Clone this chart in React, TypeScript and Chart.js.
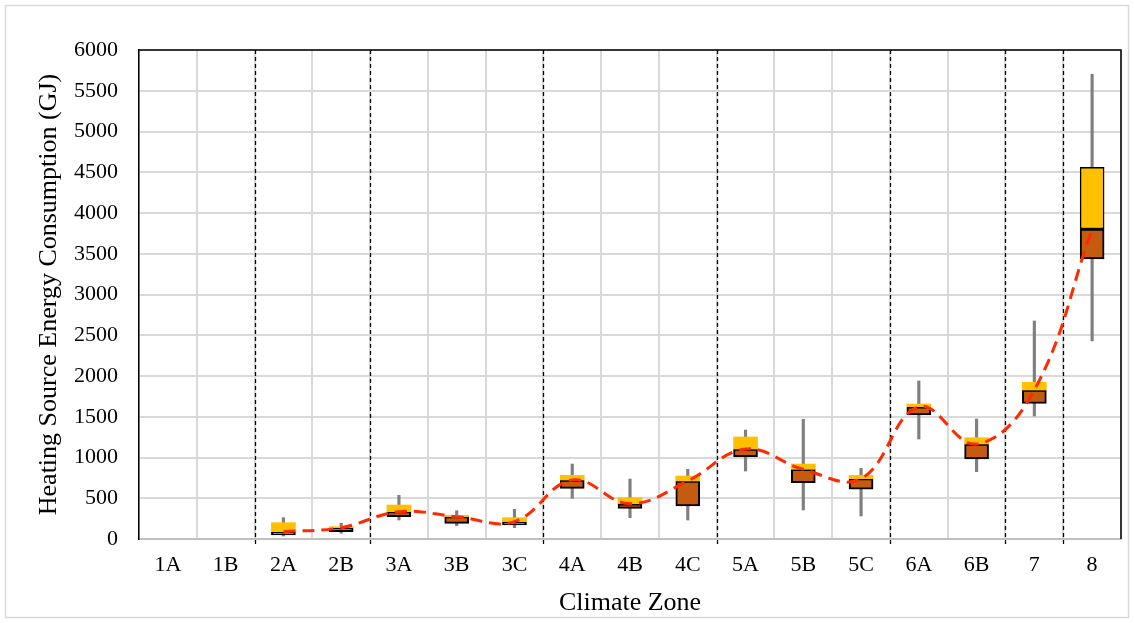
import { useEffect, useRef } from 'react';
import { Chart, registerables } from 'chart.js';

Chart.register(...registerables);

const categories = ['1A', '1B', '2A', '2B', '3A', '3B', '3C', '4A', '4B', '4C', '5A', '5B', '5C', '6A', '6B', '7', '8'];
const whiskerMin = [null, null, 37, 70, 233, 163, 139, 499, 262, 233, 834, 356, 282, 1227, 826, 1509, 2430];
const q1 = [null, null, 49, 90, 274, 192, 172, 622, 376, 405, 1010, 691, 610, 1521, 982, 1665, 3436];
const median = [null, null, 90, 139, 335, 274, 213, 724, 433, 712, 1104, 855, 740, 1623, 1166, 1828, 3804];
const q3 = [null, null, 200, 151, 417, 290, 262, 781, 507, 773, 1252, 920, 781, 1656, 1243, 1923, 4561];
const whiskerMax = [null, null, 262, 192, 536, 347, 364, 920, 736, 855, 1337, 1469, 867, 1939, 1472, 2675, 5702];
// category index after which a climate-group separator is drawn
const groupBreaks = [1, 3, 6, 9, 12, 14, 15];
const yTicks = [0, 500, 1000, 1500, 2000, 2500, 3000, 3500, 4000, 4500, 5000, 5500, 6000];

const FONT = "'Liberation Serif', 'Times New Roman', serif";

const pairs = (lo: (number | null)[], hi: (number | null)[]) =>
  lo.map((v, i) => (v == null || hi[i] == null ? null : [v, hi[i] as number]));

const framePlugin = {
  id: 'framePlugin',
  beforeDraw(chart: any) {
    const { ctx, width, height } = chart;
    ctx.save();
    ctx.fillStyle = '#ffffff';
    ctx.fillRect(0, 0, width, height);
    ctx.strokeStyle = '#D9D9D9';
    ctx.lineWidth = 1.5;
    ctx.strokeRect(5.5, 5.5, width - 11, height - 11);
    ctx.restore();
  },
  beforeDatasetsDraw(chart: any) {
    const { ctx, chartArea } = chart;
    const x = chart.scales.x;
    ctx.save();
    ctx.strokeStyle = '#000000';
    ctx.lineWidth = 1.3;
    ctx.setLineDash([4, 3]);
    groupBreaks.forEach((i) => {
      const px = Math.round((x.getPixelForValue(i) + x.getPixelForValue(i + 1)) / 2) + 0.5;
      ctx.beginPath();
      ctx.moveTo(px, chartArea.top);
      ctx.lineTo(px, chartArea.bottom + 6);
      ctx.stroke();
    });
    ctx.restore();
  },
  afterDraw(chart: any) {
    const { ctx, chartArea } = chart;
    ctx.save();
    ctx.strokeStyle = '#000000';
    ctx.lineWidth = 1.5;
    ctx.beginPath();
    ctx.moveTo(chartArea.left, chartArea.top);
    ctx.lineTo(chartArea.right, chartArea.top);
    ctx.lineTo(chartArea.right, chartArea.bottom);
    ctx.stroke();
    ctx.restore();
  },
};

export default function App() {
  const ref = useRef<HTMLCanvasElement>(null);

  useEffect(() => {
    if (!ref.current) return;
    const chart = new Chart(ref.current, {
      type: 'bar',
      data: {
        labels: categories,
        datasets: [
          {
            type: 'line',
            label: 'Median',
            data: median,
            borderColor: '#FF2A00',
            borderWidth: 3,
            borderDash: [12, 7],
            pointRadius: 0,
            tension: 0.4,
            fill: false,
            order: 0,
          } as any,
          {
            label: 'Q3',
            data: pairs(median, q3),
            backgroundColor: '#FFC000',
            borderColor: '#000000',
            borderWidth: categories.map((_, i) => (i === categories.length - 1 ? 1.5 : 0)),
            borderSkipped: false,
            barThickness: 24,
            grouped: false,
            order: 1,
          } as any,
          {
            label: 'Q1',
            data: pairs(q1, median),
            backgroundColor: '#C55A11',
            borderColor: '#000000',
            borderWidth: 2,
            borderSkipped: false,
            barThickness: 24,
            grouped: false,
            order: 2,
          } as any,
          {
            label: 'Range',
            data: pairs(whiskerMin, whiskerMax),
            backgroundColor: '#7F7F7F',
            borderWidth: 0,
            barThickness: 2.5,
            grouped: false,
            order: 3,
          } as any,
        ],
      },
      options: {
        animation: false,
        responsive: false,
        layout: { padding: { left: 0, right: 13, top: 50, bottom: 0 } },
        plugins: {
          legend: { display: false },
          tooltip: { enabled: false },
        },
        scales: {
          x: {
            offset: true,
            grid: { offset: true, color: '#D9D9D9', lineWidth: 2, drawTicks: false },
            border: { color: '#BFBFBF', width: 2 },
            ticks: { color: '#000000', padding: 13, font: { family: FONT, size: 22 } },
            title: {
              display: true,
              text: 'Climate Zone',
              color: '#000000',
              font: { family: FONT, size: 26 },
              padding: { top: 0, bottom: 4 },
            },
            afterFit(scale: any) {
              scale.height = 84;
            },
          },
          y: {
            min: 0,
            max: 6000,
            afterBuildTicks(scale: any) {
              scale.ticks = yTicks.map((v) => ({ value: v }));
            },
            grid: { color: '#D9D9D9', lineWidth: 2, drawTicks: false },
            border: { color: '#000000', width: 1.5 },
            ticks: {
              color: '#000000',
              padding: 21,
              font: { family: FONT, size: 22 },
              callback: (v: any) => String(v),
            },
            title: {
              display: true,
              text: 'Heating Source Energy Consumption (GJ)',
              color: '#000000',
              font: { family: FONT, size: 26 },
              padding: { top: 34, bottom: 0 },
            },
            afterFit(scale: any) {
              scale.width = 139;
            },
          },
        },
      },
      plugins: [framePlugin],
    });
    return () => chart.destroy();
  }, []);

  return (
    <div style={{ position: 'absolute', left: 0, top: 0, width: 1134, height: 623 }}>
      <canvas ref={ref} width={1134} height={623} style={{ display: 'block' }} />
    </div>
  );
}
